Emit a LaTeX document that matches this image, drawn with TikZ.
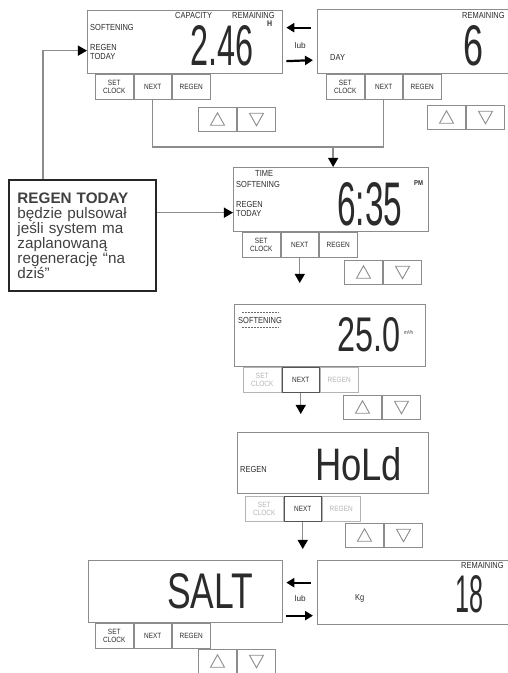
\documentclass[tikz,border=0pt]{standalone}
\usepackage{fontspec}
\usepackage{graphicx}
\setmainfont{Liberation Sans}
\newfontfamily\lcdfont[FakeStretch=0.85]{Liberation Sans}
\usetikzlibrary{
	arrows.meta,
	calc,
	positioning
}

\newlength\pxl
\setlength\pxl{0.03cm}
\definecolor{frame}{HTML}{8C8C8C}
\definecolor{dimgray}{HTML}{B4B4B4}
\definecolor{ink}{HTML}{2B2B2B}

\newcommand\segs[3]{\resizebox{#1\pxl}{#2\pxl}{\lcdfont #3}}

\tikzset{
	plain/.style={},
	lcd/.style={draw=frame, line width=1.3\pxl, anchor=north west, inner sep=0pt},
	lbl/.style={anchor=west, inner sep=0pt, align=left, text=ink, font=\lcdfont\fontsize{7.5}{8}\selectfont},
	seg/.style={anchor=north west, inner sep=0pt, text=ink},
	btn/.style={draw=frame, line width=1\pxl, anchor=north west, minimum width=37.5\pxl, minimum height=25\pxl, inner sep=0pt, align=center, text=ink, font=\lcdfont\fontsize{6.5}{6.5}\selectfont},
	dimbtn/.style={draw=dimgray, text=dimgray},
	hotbtn/.style={draw=ink!80},
	keybox/.style={draw=frame, line width=1\pxl, anchor=north west, minimum width=38\pxl, minimum height=23.5\pxl, inner sep=0pt},
	tri/.style={draw=frame, line width=0.9\pxl},
	bar/.style={draw=ink!70, line width=1.5\pxl, dash pattern=on 2\pxl off 1\pxl},
	link/.style={draw=frame, line width=1.4\pxl},
	arr/.style={link, -{Triangle[length=7.7pt, width=8.5pt, color=black]}},
	lub/.style={draw=black, line width=2.2\pxl, -{Triangle[length=6.8pt, width=7.7pt]}},
	lubtxt/.style={inner sep=0pt, text=ink, font=\fontsize{7}{7}\selectfont},
	note/.style={draw=black!85, line width=2\pxl, anchor=north west, minimum width=147\pxl, minimum height=111\pxl, text width=130\pxl, inner xsep=8\pxl, align=left, text=ink!90, font=\fontsize{13}{12.8}\selectfont}
}

\begin{document}
\begin{tikzpicture}[x=0.03cm, y=-0.03cm]
	\useasboundingbox (0,0) rectangle (508,673);
	\clip (0,0) rectangle (508,673);

	% 显示屏
	\node[lcd, minimum width=195\pxl, minimum height=63\pxl] (d1) at (87,10) {};
	\node[lcd, minimum width=195\pxl, minimum height=64\pxl] (d2) at (317,9) {};
	\node[lcd, minimum width=195\pxl, minimum height=64\pxl] (d3) at (233,167) {};
	\node[lcd, minimum width=191\pxl, minimum height=62\pxl] (d4) at (234,304) {};
	\node[lcd, minimum width=191\pxl, minimum height=61\pxl] (d5) at (237,432) {};
	\node[lcd, minimum width=194\pxl, minimum height=62\pxl] (d6) at (88,560) {};
	\node[lcd, minimum width=195\pxl, minimum height=64\pxl] (d7) at (317,560) {};

	% 按钮
	\foreach \p/\x/\y/\side/\mid in {1/95/74/plain/plain, 2/326/74/plain/plain, 3/242/232/plain/plain,
		4/243/367/dimbtn/hotbtn, 5/245/496/dimbtn/hotbtn, 6/95/623/plain/plain}{
		\node[btn, \side] (s\p) at (\x,\y) {SET\\CLOCK};
		\node[btn, \mid, right=0pt of s\p] (n\p) {NEXT};
		\node[btn, \side, right=0pt of n\p] (r\p) {REGEN};
	}

	% 上下键
	\foreach \k/\x/\y in {1/198/107, 2/427/105, 3/344/260, 4/343/395, 5/345/523, 6/198/649}{
		\node[keybox] (u\k) at (\x,\y) {};
		\node[keybox, right=0pt of u\k] (v\k) {};
		\draw[tri] ($(u\k.center)+(0,-6.5)$) -- ++(7,12.5) -- ++(-14,0) -- cycle;
		\draw[tri] ($(v\k.center)+(0,6.5)$) -- ++(7,-12.5) -- ++(-14,0) -- cycle;
	}

	% 屏幕文字
	\node[lbl] (soft1) at (90,27) {SOFTENING};
	\node[lbl] (today1) at (90,52) {REGEN\\TODAY};
	\node[lbl] (cap1) at (175,15) {CAPACITY};
	\node[lbl] (rem1) at (232,15) {REMAINING};
	\node[seg] (val1) at (190,25) {\segs{63}{40}{2.46}};
	\node[lbl, font=\lcdfont\bfseries\fontsize{7}{7}\selectfont] (unit1) at (267,24) {H};

	\node[lbl] (rem2) at (462,15) {REMAINING};
	\node[seg] (val2) at (463,25) {\segs{20}{40}{6}};
	\node[lbl] (day2) at (330,57) {DAY};

	\node[lbl] (time3) at (255,173) {TIME};
	\node[lbl] (soft3) at (236,184) {SOFTENING};
	\node[lbl] (today3) at (236,209) {REGEN\\TODAY};
	\node[seg] (val3) at (337,182) {\segs{65}{43}{6:35}};
	\node[lbl, font=\lcdfont\bfseries\fontsize{6}{6}\selectfont] (pm3) at (414,183) {PM};

	\node[lbl] (soft4) at (238,320) {SOFTENING};
	\draw[bar] ([shift={(4,-4)}]soft4.north west) -- ([shift={(-4,-4)}]soft4.north east);
	\draw[bar] ([shift={(4,4)}]soft4.south west) -- ([shift={(-4,4)}]soft4.south east);
	\node[seg] (val4) at (337,317) {\segs{63}{34}{25.0}};
	\node[lbl, font=\lcdfont\fontsize{4.5}{5}\selectfont] (unit4) at (404,333) {m³/h};

	\node[lbl] (regen5) at (240,469) {REGEN};
	\node[seg] (val5) at (315,447) {\segs{87}{33}{HoLd}};

	\node[seg] (val6) at (167,573) {\segs{86}{35}{SALT}};

	\node[lbl] (rem7) at (461,565) {REMAINING};
	\node[seg] (val7) at (455,575) {\segs{28}{37}{18}};
	\node[lbl] (kg7) at (355,598) {Kg};

	% lub 箭头
	\draw[lub] ([shift={(-6,-14)}]d2.west) -- ([shift={(3,-14.5)}]d1.east);
	\node[lubtxt] (lub1) at ($(d1.east)!0.5!(d2.west)+(0,4)$) {lub};
	\draw[lub] ([shift={(3,19)}]d1.east) -- ([shift={(-4,18.5)}]d2.west);

	\draw[lub] ([shift={(-6,-10)}]d7.west) -- ([shift={(3,-9)}]d6.east);
	\node[lubtxt] (lub2) at ($(d6.east)!0.5!(d7.west)+(0,6)$) {lub};
	\draw[lub] ([shift={(3,24)}]d6.east) -- ([shift={(-4,23)}]d7.west);

	% 说明框
	\node[note] (note) at (8,179) {\textbf{REGEN TODAY}\\będzie pulsował\\jeśli system ma\\zaplanowaną\\regenerację “na\\dziś”};

	% 连线
	\coordinate (bus) at ($(d3.north)+(2,-20)$);
	\draw[link] (n1.south) |- (bus) -| (n2.south);
	\draw[arr] (bus) -- (bus |- d3.north);
	\draw[arr] ($(note.north west)+(35,0)$) |- ([yshift=-8.5\pxl]d1.west);
	\coordinate (d3in) at ([yshift=-13\pxl]d3.west);
	\draw[arr] (note.east |- d3in) -- (d3in);
	\draw[arr] (n3.south) -- ++(0,25);
	\draw[arr] (n4.south) -- ++(0,21);
	\draw[arr] (n5.south) -- ++(0,27);
\end{tikzpicture}
\end{document}
